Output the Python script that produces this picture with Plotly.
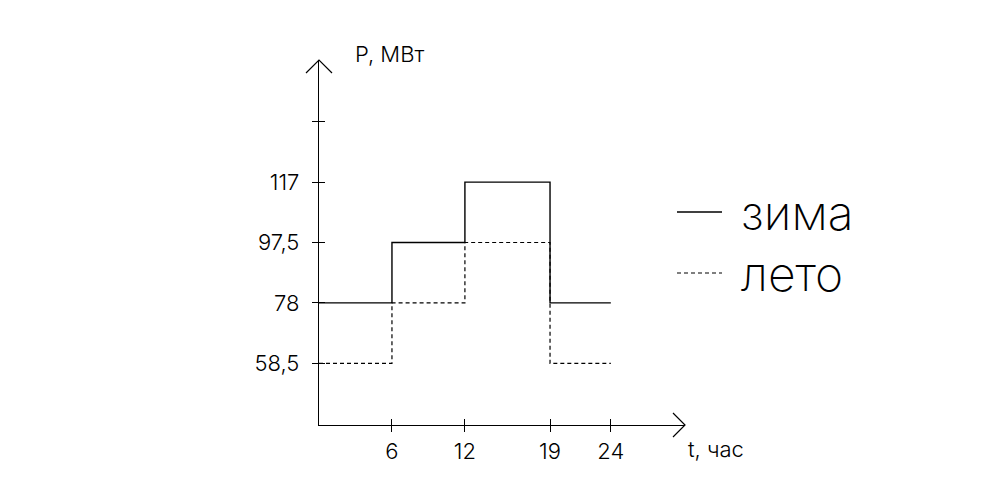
import plotly.graph_objects as go

# ---- data ----
hours = [0, 6, 12, 19, 24]
winter_p = [78, 97.5, 117, 78, 78]
summer_p = [58.5, 78, 97.5, 58.5, 58.5]
series_names = ["зима", "лето"]
x_tick_vals = [6, 12, 19, 24]
x_tick_text = ["6", "12", "19", "24"]
y_tick_vals = [58.5, 78, 97.5, 117, 136.5]
y_tick_text = ["58,5", "78", "97,5", "117", ""]

# axis extents
x_min, x_max = 0, 30.1
y_min, y_max = 38.6, 156.4

W, H = 1002, 499
PAGE_OFF = 8                     # default body margin of the html page
L0, T0 = 319, 60                 # desired plot-area origin on screen
PW, PH = 366, 365
L, T = L0 - PAGE_OFF, T0 - PAGE_OFF
R, B = W - L - PW, H - T - PH

def px(x):   # screen px -> paper x
    return (x - L0) / PW

def py(y):   # screen px -> paper y
    return 1 - (y - T0) / PH

THIN = "Inter, Roboto, Lato, DejaVu Sans"
small_font = dict(family=THIN, size=22, color="black", weight=300)
line_styles = [dict(color="black", width=1.4), dict(color="black", width=1.2, dash="4px,3px")]

fig = go.Figure()
for yv, nm, ls in zip([winter_p, summer_p], series_names, line_styles):
    fig.add_trace(go.Scatter(x=hours, y=yv, mode="lines", line_shape="hv",
                             name=nm, showlegend=False, line=ls))

# legend drawn by hand (swatch + label)
for i, (nm, ls) in enumerate(zip(series_names, line_styles)):
    yc = 212 + 61 * i
    fig.add_shape(type="line", xref="paper", yref="paper",
                  x0=px(677), x1=px(722), y0=py(yc), y1=py(yc), line=ls)
    fig.add_annotation(text=nm, xref="paper", yref="paper", x=px(739), y=py(yc),
                       xanchor="left", yanchor="middle", showarrow=False,
                       font=dict(family=THIN, size=48, color="black", weight=200))

# arrow heads (open chevrons) at the axis ends, in paper units
a = 12
fig.add_shape(type="path", xref="paper", yref="paper",
              path=f"M {1 - a/PW},{a/PH} L 1,0 L {1 - a/PW},{-a/PH}",
              line=dict(color="black", width=1.2))
fig.add_shape(type="path", xref="paper", yref="paper",
              path=f"M {-13/PW},{1 - 13/PH} L 0,1 L {13/PW},{1 - 13/PH}",
              line=dict(color="black", width=1.2))

fig.add_annotation(text="Р, МВт", xref="paper", yref="paper", x=px(353), y=py(54),
                   xanchor="left", yanchor="middle", showarrow=False, font=small_font)
fig.add_annotation(text="t, час", xref="paper", yref="paper", x=px(686), y=py(449),
                   xanchor="left", yanchor="middle", showarrow=False, font=small_font)

tick_common = dict(ticks="outside", ticklen=6, tickcolor="black", tickwidth=1.2)

fig.update_layout(
    width=W, height=H,
    margin=dict(l=L, r=R, t=T, b=B, autoexpand=False),
    paper_bgcolor="white", plot_bgcolor="white",
    separators=",.",
    showlegend=False,
    xaxis=dict(range=[x_min, x_max], showgrid=False, zeroline=False, automargin=False,
               showline=True, linecolor="black", linewidth=1.4,
               tickmode="array", tickvals=x_tick_vals, ticktext=x_tick_text,
               minor=dict(tickmode="array", tickvals=[v + 1e-6 for v in x_tick_vals],
                          ticks="inside", ticklen=6, tickcolor="black", tickwidth=1.2,
                          showgrid=False),
               tickfont=small_font, **tick_common),
    yaxis=dict(range=[y_min, y_max], showgrid=False, zeroline=False, automargin=False,
               showline=True, linecolor="black", linewidth=1.4,
               tickmode="array", tickvals=y_tick_vals, ticktext=y_tick_text,
               minor=dict(tickmode="array", tickvals=[v + 1e-6 for v in y_tick_vals],
                          ticks="inside", ticklen=6, tickcolor="black", tickwidth=1.2,
                          showgrid=False),
               ticklabelstandoff=8,
               tickfont=small_font, **tick_common),
)

fig.write_html("out.html")
